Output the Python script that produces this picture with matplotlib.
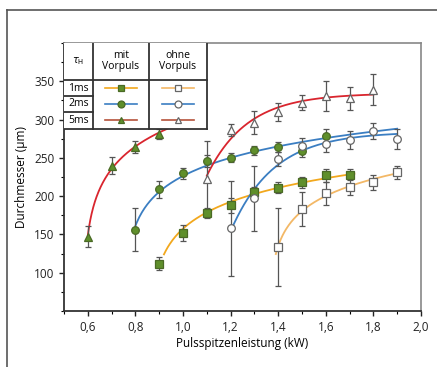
import numpy as np
import matplotlib
matplotlib.use("Agg")
import matplotlib.pyplot as plt
from matplotlib.lines import Line2D
from matplotlib.patches import Rectangle
from matplotlib.ticker import FixedLocator, MultipleLocator, FuncFormatter

plt.rcParams['font.family'] = ['Open Sans', 'DejaVu Sans']

# Messwerte: Pulsspitzenleistung (kW), Durchmesser (µm), Fehler (µm)
x_1ms_mit = [0.9, 1.0, 1.1, 1.2, 1.3, 1.4, 1.5, 1.6, 1.7]
y_1ms_mit = [112, 152, 178, 188, 206, 211, 218, 227, 228]
e_1ms_mit = [8, 10, 6, 10, 6, 7, 7, 8, 7]

x_2ms_mit = [0.8, 0.9, 1.0, 1.1, 1.2, 1.3, 1.4, 1.5, 1.6]
y_2ms_mit = [156, 209, 230, 246, 250, 260, 264, 259, 279]
e_2ms_mit = [28, 11, 7, 8, 6, 6, 7, 8, 9]

x_5ms_mit = [0.6, 0.7, 0.8, 0.9]
y_5ms_mit = [147, 240, 264, 281]
e_5ms_mit = [14, 11, 8, 7]

x_1ms_ohne = [1.4, 1.5, 1.6, 1.7, 1.8, 1.9]
y_1ms_ohne = [133, 183, 204, 212, 218, 231]
e_1ms_ohne = [51, 22, 15, 10, 10, 8]

x_2ms_ohne = [1.2, 1.3, 1.4, 1.5, 1.6, 1.7, 1.8, 1.9]
y_2ms_ohne = [158, 197, 248, 266, 268, 273, 285, 275]
e_2ms_ohne = [62, 42, 9, 10, 10, 12, 10, 13]

x_5ms_ohne = [1.1, 1.2, 1.3, 1.4, 1.5, 1.6, 1.7, 1.8]
y_5ms_ohne = [223, 286, 296, 310, 322, 331, 328, 339]
e_5ms_ohne = [49, 8, 15, 12, 10, 20, 15, 20]

reihen = ["1ms", "2ms", "5ms"]
farben = {"1ms": "#f2a81d", "2ms": "#3b7ec2", "5ms": "#d9252e"}
farbe_1ms_ohne = "#f3b866"
gruen = "#5f8f2b"


# Fit: logarithmisch y = a + b*ln(x-c) oder Saettigung y = a + b*exp(-k*x)
def fit_kurve(x, y, x0, x1, c=None):
    x = np.array(x, dtype=float)
    y = np.array(y, dtype=float)
    xs = np.linspace(x0, x1, 200)
    if c is not None:
        p = np.polyfit(np.log(x - c), y, 1)
        return xs, np.polyval(p, np.log(xs - c))
    best = None
    for k in np.linspace(0.5, 40, 800):
        A = np.column_stack([np.ones_like(x), np.exp(-k * x)])
        coef = np.linalg.lstsq(A, y, rcond=None)[0]
        r = np.sum((A @ coef - y) ** 2)
        if best is None or r < best[0]:
            best = (r, k, coef)
    _, k, (a, b) = best
    return xs, a + b * np.exp(-k * xs)


fig = plt.figure(figsize=(4.37, 3.67), dpi=100)
ax = fig.add_axes([64 / 437, 1 - 311 / 367, 357 / 437, 268 / 367])

# Fitkurven
kurven = [
    (x_1ms_mit, y_1ms_mit, 0.92, 1.72, 0.86, farben["1ms"]),
    (x_2ms_mit, y_2ms_mit, 0.80, 1.90, 0.75, farben["2ms"]),
    (x_5ms_mit, y_5ms_mit, 0.60, 0.95, 0.58, farben["5ms"]),
    (x_1ms_ohne, y_1ms_ohne, 1.39, 1.90, 1.36, farbe_1ms_ohne),
    (x_2ms_ohne, y_2ms_ohne, 1.20, 1.90, None, farben["2ms"]),
    (x_5ms_ohne, y_5ms_ohne, 1.10, 1.80, None, farben["5ms"]),
]
for x, y, x0, x1, c, col in kurven:
    xs, ys = fit_kurve(x, y, x0, x1, c)
    ax.plot(xs, ys, color=col, lw=1.3, zorder=2)

# Messpunkte mit Fehlerbalken
punkte = [
    (x_1ms_mit, y_1ms_mit, e_1ms_mit, "s", True),
    (x_2ms_mit, y_2ms_mit, e_2ms_mit, "o", True),
    (x_5ms_mit, y_5ms_mit, e_5ms_mit, "^", True),
    (x_1ms_ohne, y_1ms_ohne, e_1ms_ohne, "s", False),
    (x_2ms_ohne, y_2ms_ohne, e_2ms_ohne, "o", False),
    (x_5ms_ohne, y_5ms_ohne, e_5ms_ohne, "^", False),
]
for x, y, e, m, gefuellt in punkte:
    ax.errorbar(x, y, yerr=e, fmt=m, ms=5.5, capsize=2.5, elinewidth=0.9,
                ecolor="#555555", capthick=0.9,
                mfc=gruen if gefuellt else "white",
                mec="#4a6a25" if gefuellt else "#666666", mew=0.9, zorder=3)

ax.set_xlim(0.5, 2.0)
ax.set_ylim(50, 400)
ax.xaxis.set_major_locator(FixedLocator([0.6, 0.8, 1.0, 1.2, 1.4, 1.6, 1.8, 2.0]))
ax.xaxis.set_minor_locator(MultipleLocator(0.1))
ax.xaxis.set_major_formatter(FuncFormatter(lambda v, p: f"{v:.1f}".replace(".", ",")))
ax.yaxis.set_major_locator(FixedLocator([100, 150, 200, 250, 300, 350]))
ax.yaxis.set_minor_locator(MultipleLocator(25))
ax.tick_params(direction="out", length=3.5, width=1, labelsize=8.5, colors="#222222")
ax.tick_params(which="minor", direction="out", length=2, width=0.8)
for s in ["left", "bottom"]:
    ax.spines[s].set_linewidth(1.3)
    ax.spines[s].set_color("#333333")
for s in ["right", "top"]:
    ax.spines[s].set_linewidth(1.2)
    ax.spines[s].set_color("#888888")

ax.set_xlabel("Pulsspitzenleistung (kW)", fontsize=8.5, labelpad=2)
ax.set_ylabel("Durchmesser (µm)", fontsize=8.5, labelpad=4)

# Legende als Tabelle oben links
tf = ax.transAxes
x_c1, x_c2, x_c3 = 0.081, 0.238, 0.40
y_oben, y_kopf = 1.0, 0.862
zeilen_y = [0.862, 0.802, 0.743, 0.679]
ax.add_patch(Rectangle((0, zeilen_y[-1]), x_c3, 1 - zeilen_y[-1], transform=tf,
                       facecolor="white", edgecolor="none", zorder=5))
lw_tab = 1.3
for xv in [x_c1, x_c2, x_c3]:
    ax.plot([xv, xv], [zeilen_y[-1], y_oben], transform=tf, color="#333333", lw=lw_tab, zorder=6)
ax.plot([0, x_c3], [y_kopf, y_kopf], transform=tf, color="#333333", lw=lw_tab, zorder=6)
ax.plot([0, x_c3], [zeilen_y[-1], zeilen_y[-1]], transform=tf, color="#333333", lw=lw_tab, zorder=6)
for yv in zeilen_y[1:-1]:
    ax.plot([0, x_c1], [yv, yv], transform=tf, color="#333333", lw=lw_tab, zorder=6)

ax.text(x_c1 / 2, (y_oben + y_kopf) / 2, r"$\tau_\mathrm{H}$", transform=tf, ha="center", va="center", fontsize=7, zorder=7)
ax.text((x_c1 + x_c2) / 2, (y_oben + y_kopf) / 2, "mit\nVorpuls", transform=tf, ha="center", va="center",
        fontsize=7.5, linespacing=1.0, zorder=7)
ax.text((x_c2 + x_c3) / 2, (y_oben + y_kopf) / 2, "ohne\nVorpuls", transform=tf, ha="center", va="center",
        fontsize=7.5, linespacing=1.0, zorder=7)

marker = {"1ms": "s", "2ms": "o", "5ms": "^"}
for i, r in enumerate(reihen):
    ym = (zeilen_y[i] + zeilen_y[i + 1]) / 2
    ax.text(x_c1 / 2, ym, r, transform=tf, ha="center", va="center", fontsize=7.5, zorder=7)
    for xc, gefuellt in [((x_c1 + x_c2) / 2, True), ((x_c2 + x_c3) / 2, False)]:
        col = farbe_1ms_ohne if (r == "1ms" and not gefuellt) else farben[r]
        if r == "5ms":
            col = "#b5523a"
        ax.plot([xc - 0.045, xc + 0.045], [ym, ym], transform=tf, color=col, lw=1.2, zorder=7)
        ax.plot([xc], [ym], transform=tf, marker=marker[r], ms=5, zorder=8,
                mfc=gruen if gefuellt else "white", mec="#4a6a25" if gefuellt else "#666666", mew=0.9)

# aeusserer Rahmen
fig.add_artist(Line2D([7 / 437, 1.0], [1 - 10 / 367, 1 - 10 / 367], color="#555555", lw=1.2))
fig.add_artist(Line2D([7 / 437, 7 / 437], [0, 1 - 10 / 367], color="#555555", lw=1.2))

fig.savefig("out.png", dpi=100)
